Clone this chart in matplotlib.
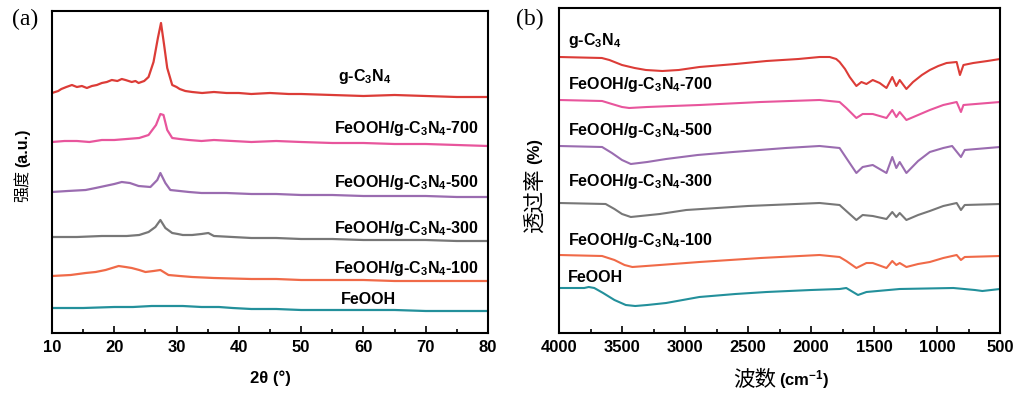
import matplotlib
matplotlib.use("Agg")
import matplotlib.pyplot as plt
from matplotlib.ticker import MultipleLocator

plt.rcParams['font.family'] = ['Liberation Sans', 'DejaVu Sans']
plt.rcParams['mathtext.fontset'] = 'custom'
plt.rcParams['mathtext.rm'] = 'Liberation Sans:bold'
plt.rcParams['mathtext.it'] = 'Liberation Sans:bold'
plt.rcParams['mathtext.bf'] = 'Liberation Sans:bold'

# ---------------- (a) XRD data ----------------
xrd_g_x = [10, 11, 11.5, 12.3, 13.2, 14, 14.8, 15.6, 16.4, 17.2, 18, 18.8, 19.6, 20.5, 21.2, 21.8, 22.8, 23.4, 23.9, 24.8, 25.5, 26.3, 27.0, 27.5, 28.0, 28.5, 29.3, 30.0, 30.5, 31.4, 32.5, 34.1, 36, 38, 40, 42, 45, 48, 50, 55, 60, 65, 70, 75, 80]
xrd_g_y = [240, 242, 244, 246, 248, 246, 247, 245, 247, 248, 250, 251, 253, 252, 254, 253, 251, 252, 250, 252, 256, 271, 295, 310, 288, 265, 248, 246, 244, 242, 241, 240, 241, 240, 240, 239, 240, 239, 239, 238, 237, 238, 237, 236, 236]

xrd_700_x = [10, 12, 14, 16, 18, 20, 22, 24, 25.5, 26.7, 27.4, 27.9, 28.5, 29.3, 30.5, 32, 34, 36, 39, 42, 46, 50, 55, 60, 65, 70, 75, 80]
xrd_700_y = [191, 192, 192, 191, 193, 193, 194, 195, 198, 208, 219, 218, 203, 195, 194, 193, 192, 193, 192, 191, 192, 191, 190, 190, 189, 189, 188, 187]

xrd_500_x = [10, 12.5, 15.4, 17, 18.5, 20, 21.2, 22.5, 23.9, 25.8, 26.9, 27.4, 28.2, 29, 30.5, 32, 34, 38, 42, 46, 50, 55, 60, 65, 70, 75, 80]
xrd_500_y = [141, 142, 143, 145, 147, 149, 151, 150, 147, 146, 153, 160, 150, 143, 142, 141, 140, 140, 139, 139, 138, 138, 137, 137, 137, 136, 136]

xrd_300_x = [10, 14, 18, 22, 24, 25.5, 26.6, 27.4, 28.2, 29.3, 30.2, 31, 32.5, 34, 35.1, 36, 39, 42, 46, 50, 55, 60, 65, 70, 75, 80]
xrd_300_y = [96, 96, 97, 97, 98, 101, 106, 113, 105, 100, 99, 98, 98, 99, 100, 97, 96, 95, 95, 94, 94, 93, 93, 93, 92, 92]

xrd_100_x = [10, 13, 15.4, 17, 18.6, 20.7, 21.8, 22.8, 24, 25, 26.3, 27.4, 28.7, 30.5, 32.5, 36, 42, 46, 50, 55, 60, 65, 70, 75, 80]
xrd_100_y = [57, 58, 60, 61, 63, 67, 66, 65, 63, 61, 62, 63, 58, 57, 56, 55, 54, 54, 53, 53, 53, 52, 52, 52, 52]

xrd_fe_x = [10, 15, 20, 23, 26, 28, 31, 34, 36.8, 39, 42, 46, 50, 55, 60, 65, 70, 75, 80]
xrd_fe_y = [25, 25, 26, 26, 27, 27, 27, 26, 26, 25, 24, 24, 23, 23, 23, 23, 22, 22, 22]

# ---------------- (b) FTIR data ----------------
ir_g_x = [4000, 3660, 3600, 3500, 3400, 3310, 3180, 3050, 2886, 2600, 2353, 2100, 1932, 1852, 1800, 1773, 1730, 1693, 1640, 1600, 1560, 1510, 1455, 1401, 1355, 1323, 1296, 1243, 1190, 1120, 1057, 990, 924, 844, 818, 790, 712, 600, 500]
ir_g_y = [276, 275, 273, 268, 265, 263, 262, 263, 266, 269, 272, 274, 276, 276, 274, 271, 264, 256, 247, 251, 249, 253, 250, 245, 256, 247, 253, 244, 251, 258, 263, 267, 270, 271, 258, 268, 270, 272, 274]

ir_700_x = [4000, 3658, 3580, 3500, 3443, 3300, 3100, 2886, 2400, 1932, 1773, 1720, 1640, 1590, 1510, 1401, 1355, 1323, 1296, 1243, 1150, 1057, 950, 844, 810, 790, 500]
ir_700_y = [233, 232, 229, 226, 225, 226, 227, 228, 231, 233, 231, 225, 215, 219, 219, 215, 223, 216, 221, 213, 218, 223, 228, 231, 221, 228, 231]

ir_500_x = [4000, 3658, 3580, 3500, 3430, 3300, 3150, 2900, 2620, 2200, 1932, 1773, 1720, 1640, 1590, 1510, 1401, 1355, 1323, 1296, 1243, 1150, 1057, 950, 880, 810, 780, 500]
ir_500_y = [187, 186, 180, 173, 169, 171, 174, 178, 181, 185, 187, 185, 175, 160, 166, 168, 160, 176, 165, 171, 160, 172, 181, 185, 187, 176, 183, 186]

ir_300_x = [4000, 3630, 3560, 3500, 3430, 3200, 2990, 2500, 1932, 1773, 1720, 1640, 1590, 1510, 1401, 1355, 1323, 1296, 1243, 1150, 1057, 950, 844, 810, 780, 500]
ir_300_y = [130, 129, 124, 119, 116, 119, 123, 127, 130, 128, 122, 113, 118, 117, 114, 121, 116, 120, 113, 118, 122, 127, 130, 123, 128, 129]

ir_100_x = [4000, 3658, 3560, 3480, 3418, 3200, 2886, 2400, 1932, 1773, 1720, 1640, 1560, 1510, 1401, 1355, 1323, 1296, 1243, 1150, 1057, 950, 844, 810, 780, 500]
ir_100_y = [78, 77, 73, 68, 66, 68, 71, 75, 78, 76, 72, 65, 70, 70, 65, 72, 68, 70, 66, 69, 71, 75, 78, 73, 76, 77]

ir_fe_x = [4000, 3800, 3764, 3720, 3650, 3560, 3470, 3395, 3300, 3150, 2886, 2600, 2353, 2000, 1773, 1720, 1627, 1560, 1296, 870, 700, 640, 500]
ir_fe_y = [45, 45, 46, 45, 40, 33, 28, 27, 28, 30, 36, 39, 41, 43, 44, 45, 38, 41, 44, 45, 43, 42, 44]

colors = ['#dc3c37', '#e8559c', '#9a6cb0', '#777777', '#f06a48', '#23909b']

labels_a = [r'g-C$_3$N$_4$', r'FeOOH/g-C$_3$N$_4$-700', r'FeOOH/g-C$_3$N$_4$-500',
            r'FeOOH/g-C$_3$N$_4$-300', r'FeOOH/g-C$_3$N$_4$-100', 'FeOOH']

W, H = 1016, 396
fig = plt.figure(figsize=(W / 100, H / 100), dpi=100)

def px_axes(l, t, r, b):
    return fig.add_axes([l / W, 1 - b / H, (r - l) / W, (b - t) / H])

axa = px_axes(52, 11, 488, 333)
axb = px_axes(559, 8, 1000, 333)

for ax in (axa, axb):
    for s in ax.spines.values():
        s.set_linewidth(1.5)
    ax.tick_params(axis='x', which='both', direction='in', top=False, width=1.2,
                   labelsize=12, pad=5)
    ax.tick_params(axis='x', which='major', length=5)
    ax.tick_params(axis='x', which='minor', length=3)
    ax.set_yticks([])

# ---- panel a ----
xa = [xrd_g_x, xrd_700_x, xrd_500_x, xrd_300_x, xrd_100_x, xrd_fe_x]
ya = [xrd_g_y, xrd_700_y, xrd_500_y, xrd_300_y, xrd_100_y, xrd_fe_y]
for x, y, c in zip(xa, ya, colors):
    axa.plot(x, y, color=c, lw=1.6)
axa.set_xlim(10, 80)
axa.set_ylim(0, 322)
axa.xaxis.set_major_locator(MultipleLocator(10))
axa.xaxis.set_minor_locator(MultipleLocator(5))
for lab in axa.get_xticklabels():
    lab.set_fontweight('bold')

lab_pos_a = [(365, 76), (406, 128), (406, 183), (406, 229), (406, 269), (368, 300)]
for (px, py), t in zip(lab_pos_a, labels_a):
    fig.text(px / W, 1 - py / H, t, ha='center', va='center',
             fontsize=11.5, fontweight='bold')

# ---- panel b ----
xb = [ir_g_x, ir_700_x, ir_500_x, ir_300_x, ir_100_x, ir_fe_x]
yb = [ir_g_y, ir_700_y, ir_500_y, ir_300_y, ir_100_y, ir_fe_y]
for x, y, c in zip(xb, yb, colors):
    axb.plot(x, y, color=c, lw=1.5)
axb.set_xlim(4000, 500)
axb.set_ylim(0, 325)
axb.xaxis.set_major_locator(MultipleLocator(500))
axb.xaxis.set_minor_locator(MultipleLocator(250))
for lab in axb.get_xticklabels():
    lab.set_fontweight('bold')

lab_pos_b = [41, 85, 130, 182, 240, 278]
for py, t in zip(lab_pos_b, labels_a):
    fig.text(568 / W, 1 - py / H, t, ha='left', va='center', fontsize=11.5, fontweight='bold')

# ---- axis labels ----
cjk = ['Noto Sans CJK SC', 'DejaVu Sans']
fig.text(270 / W, 1 - 378 / H, '2θ (°)', ha='center', va='center', fontsize=12, fontweight='bold')
fig.text(776 / W, 1 - 380 / H, '波数', ha='right', va='center', fontsize=15.5, family=cjk)
fig.text(779 / W, 1 - 380 / H, r'(cm$^{-1}$)', ha='left', va='center', fontsize=12, fontweight='bold')

fig.text(23 / W, 1 - 167 / H, '(a.u.)', ha='center', va='bottom', fontsize=11.5, fontweight='bold', rotation=90)
fig.text(23 / W, 1 - 170 / H, '强度', ha='center', va='top', fontsize=11.5, family=cjk, rotation=90)
fig.text(535 / W, 1 - 164 / H, '(%)', ha='center', va='bottom', fontsize=12, fontweight='bold', rotation=90)
fig.text(535 / W, 1 - 169 / H, '透过率', ha='center', va='top', fontsize=15.5, family=cjk, rotation=90)

fig.text(25 / W, 1 - 19 / H, '(a)', ha='center', va='center', fontsize=17, family='Liberation Serif')
fig.text(530 / W, 1 - 19 / H, '(b)', ha='center', va='center', fontsize=17, family='Liberation Serif')

fig.savefig('out.png', dpi=100)
